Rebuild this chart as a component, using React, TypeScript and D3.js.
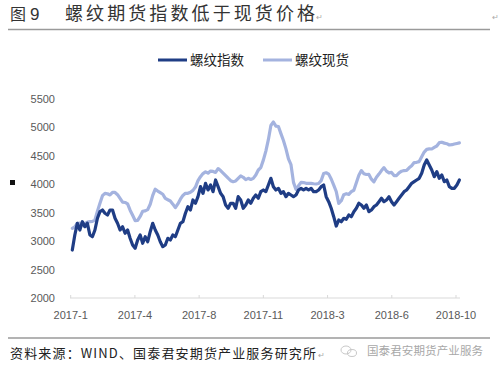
import React from "react";
import * as d3 from "d3";

const titleFig = "图";
const titleNum = "9";
const titleMain = "螺纹期货指数低于现货价格";
const seriesNames = ["螺纹指数", "螺纹现货"];
const yTicks = [2000, 2500, 3000, 3500, 4000, 4500, 5000, 5500];
const xLabels = ["2017-1", "2017-4", "2017-8", "2017-11", "2018-3", "2018-6", "2018-10"];
const sourceText = "资料来源：WIND、国泰君安期货产业服务研究所";
const watermark = "国泰君安期货产业服务";

// 螺纹指数 (rebar futures index)
const indexValues = [
  2844, 3108, 3314, 3196, 3342, 3254, 3314, 3108, 3078, 3196,
  3402, 3518, 3548, 3490, 3460, 3548, 3548, 3402, 3314, 3196,
  3254, 3138, 3196, 3050, 2932, 2874, 3020, 3108, 2962, 3078,
  2990, 3166, 3314, 3196, 3108, 2990, 2903, 2932, 3050, 3020,
  3108, 3078, 3196, 3314, 3342, 3490, 3606, 3548, 3724, 3666,
  3782, 3958, 3841, 4017, 3900, 3988, 3870, 4076, 3958, 3841,
  3782, 3636, 3578, 3666, 3666, 3578, 3782, 3724, 3578, 3636,
  3724, 3666, 3754, 3812, 3754, 3870, 3900, 3870, 3988, 4105,
  3958, 3900, 3929, 3841, 3870, 3782, 3841, 3812, 3782, 3812,
  3900, 3929, 3900, 3929, 3900, 3929, 3870, 3870, 3900, 3958,
  3988,
  3782, 3694, 3578, 3430, 3266, 3372, 3342, 3402, 3384, 3460,
  3430, 3518, 3578, 3666, 3636, 3578, 3636, 3518, 3548, 3606,
  3636, 3694, 3754, 3694, 3724, 3782, 3694, 3636, 3694, 3754,
  3812, 3870, 3900, 3958, 4017, 4046, 4076, 4105, 4193, 4339,
  4427, 4339, 4251, 4134, 4222, 4105, 4164, 4046, 4076, 3958,
  3929, 3929, 3988, 4076,
];

// 螺纹现货 (rebar spot price)
const spotValues = [
  3226, 3252, 3315, 3316, 3290, 3313, 3334, 3342, 3348, 3371,
  3528, 3666, 3800, 3841, 3834, 3812, 3856, 3856, 3817, 3751,
  3685, 3680, 3655, 3544, 3455, 3362, 3365, 3434, 3525, 3533,
  3554, 3648, 3804, 3914, 3881, 3853, 3825, 3751, 3728, 3706,
  3651, 3589, 3655, 3737, 3804, 3841, 3841, 3860, 3893, 3951,
  4063, 4133, 4188, 4218, 4195, 4232, 4226, 4209, 4276, 4241,
  4197, 4152, 4107, 4064, 4046, 4058, 4103, 4147, 4123, 4083,
  4105, 4084, 4104, 4162, 4251, 4294, 4425, 4584, 4784, 5033,
  5095, 5023, 5016, 4891, 4769, 4623, 4448, 4345, 4034, 3909,
  3973, 4033, 4030, 4017, 4017, 4017, 4010, 4005, 4014, 4065,
  4189, 4203, 4179, 4093, 3986, 3873, 3663, 3710, 3818, 3834,
  3823, 3870, 3895, 4027, 4160, 4241, 4186, 4172, 4173, 4090,
  4043, 4123, 4179, 4241, 4293, 4232, 4201, 4209, 4154, 4154,
  4202, 4230, 4242, 4243, 4289, 4325, 4382, 4386, 4399, 4484,
  4567, 4615, 4622, 4621, 4650, 4673, 4732, 4740, 4724, 4714,
  4691, 4696, 4708, 4718, 4728,
];

const W = 500;
const H = 372;
const DARK = "#1f3d85";
const LIGHT = "#a4b3df";
const CJK = "'Noto Sans CJK SC', sans-serif";
const LAT = "'Liberation Sans', Arial, sans-serif";

export default function App() {
  const n = indexValues.length;
  const x = d3.scaleLinear().domain([0, n - 1]).range([72.3, 459.4]);
  const y = d3.scaleLinear().domain([2000, 5500]).range([298, 99]);
  const xl = d3.scalePoint<string>().domain(xLabels).range([70.7, 456]);

  const line = d3
    .line<number>()
    .x((_, i) => x(i))
    .y((d) => y(d))
    .curve(d3.curveLinear);

  return (
    <svg
      width={W}
      height={H}
      viewBox={`0 0 ${W} ${H}`}
      style={{ position: "absolute", left: 0, top: 0, background: "#fff" }}
    >
      <rect x={0} y={0} width={W} height={H} fill="#fff" />
      {/* title */}
      <text x={10} y={20} fontFamily={CJK} fontSize={16} fill="#333">
        {titleFig}
      </text>
      <text x={30} y={20} fontFamily={LAT} fontSize={17} fill="#333">
        {titleNum}
      </text>
      <text x={65} y={20} fontFamily={CJK} fontSize={18} fill="#333" textLength={250}>
        {titleMain}
      </text>
      <text x={316} y={20} fontFamily={LAT} fontSize={8} fill="#aaa">↵</text>
      <text x={492} y={20} fontFamily={LAT} fontSize={8} fill="#aaa">↵</text>
      <line x1={8} x2={490} y1={29.5} y2={29.5} stroke="#9a9a9a" strokeWidth={1.5} />

      {/* legend */}
      <line x1={158} x2={187} y1={60} y2={60} stroke={DARK} strokeWidth={3} />
      <text x={190} y={65} fontFamily={CJK} fontSize={13.5} fill="#222">
        {seriesNames[0]}
      </text>
      <line x1={263} x2={292} y1={60} y2={60} stroke={LIGHT} strokeWidth={3} />
      <text x={295} y={65} fontFamily={CJK} fontSize={13.5} fill="#222">
        {seriesNames[1]}
      </text>

      {/* y axis labels */}
      {yTicks.map((t) => (
        <text
          key={t}
          x={55}
          y={y(t) + 4}
          textAnchor="end"
          fontFamily={LAT}
          fontSize={11}
          fill="#595959"
        >
          {t}
        </text>
      ))}
      <rect x={10} y={180} width={5} height={5} fill="#111" />

      {/* x axis */}
      <line x1={70} x2={460} y1={298} y2={298} stroke="#d9d9d9" strokeWidth={1} />
      {xLabels.map((l) => (
        <g key={l}>
          <line x1={xl(l)} x2={xl(l)} y1={295} y2={298} stroke="#d9d9d9" />
          <text
            x={xl(l)}
            y={319}
            textAnchor="middle"
            fontFamily={LAT}
            fontSize={11}
            fill="#595959"
          >
            {l}
          </text>
        </g>
      ))}

      {/* series */}
      <path
        d={line(spotValues) || ""}
        fill="none"
        stroke={LIGHT}
        strokeWidth={3.2}
        strokeLinejoin="round"
        strokeLinecap="round"
      />
      <path
        d={line(indexValues) || ""}
        fill="none"
        stroke={DARK}
        strokeWidth={3.2}
        strokeLinejoin="round"
        strokeLinecap="round"
      />

      {/* footer */}
      <line x1={8} x2={490} y1={338} y2={338} stroke="#9a9a9a" strokeWidth={1.5} />
      <text x={10} y={358} fontFamily={CJK} fontSize={13} fill="#222" textLength={306}>
        {sourceText}
      </text>
      <text x={318} y={358} fontFamily={LAT} fontSize={8} fill="#aaa">↵</text>
      <g transform="translate(348,351)" fill="none" stroke="#c8c8c8" strokeWidth={1}>
        <ellipse cx={-2} cy={-1} rx={5} ry={4} />
        <ellipse cx={4} cy={2} rx={4.5} ry={3.5} />
      </g>
      <text x={367} y={355} fontFamily={CJK} fontSize={11.5} fill="#a8a8a8" textLength={116}>
        {watermark}
      </text>
    </svg>
  );
}
